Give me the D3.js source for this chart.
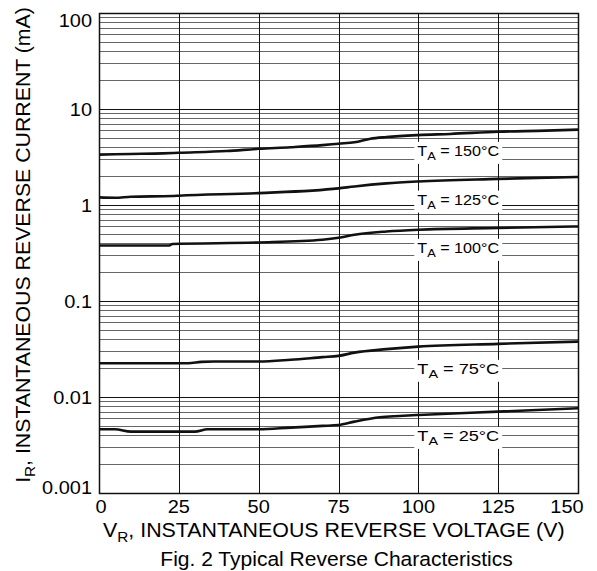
<!DOCTYPE html>
<html><head><meta charset="utf-8">
<script src="https://cdn.jsdelivr.net/npm/d3@7"></script>
<style>body{margin:0;background:#fff}svg{display:block;font-family:"Liberation Sans",Arial,sans-serif}</style>
</head><body><svg id="c" width="597" height="571"></svg>
<script>
const xTicks = [0,25,50,75,100,125,150];
const yTicks = [0.001,0.01,0.1,1,10,100];
const yTickLabels = ["0.001","0.01","0.1","1","10","100"];
const volts150 = [0,10,20,25,40,50,60,70,75,80,85,90,100,110,125,140,150];
const curr150  = [3.35,3.4,3.45,3.5,3.65,3.85,4.0,4.2,4.35,4.5,4.9,5.1,5.35,5.5,5.8,5.95,6.1];
const volts125 = [0,5,10,23,25,50,75,80,90,100,125,150];
const curr125  = [1.2,1.19,1.22,1.24,1.25,1.33,1.49,1.56,1.68,1.76,1.87,1.96];
const volts100 = [0,22,23,50,70,75,80,90,100,125,150];
const curr100  = [0.379,0.379,0.392,0.407,0.435,0.455,0.49,0.53,0.553,0.576,0.598];
const volts75  = [0,28,32,36,50,60,70,75,80,90,100,125,150];
const curr75   = [0.0225,0.0225,0.0232,0.0234,0.0234,0.0244,0.026,0.0268,0.029,0.0315,0.0335,0.0358,0.0378];
const volts25  = [0,5,10,25,30,34,50,60,70,75,80,88,94,100,125,150];
const curr25   = [0.00461,0.00461,0.00436,0.00436,0.00436,0.00461,0.00461,0.0048,0.005,0.0051,0.00554,0.00616,0.00635,0.0065,0.00704,0.00764];
const seriesLabels = ["150°C","125°C","100°C","75°C","25°C"];
const labelY = [3.67,1.14,0.358,0.0197,0.00394];

const svg = d3.select("#c");
const L=99,R=578,T=13,B=493;
const x = d3.scaleLinear().domain([0,150]).range([L,R]);
const y = d3.scaleLog().domain([0.001,100]).range([B,T]);

// horizontal grid
const minor=[];
for(let d=-3; d<2; d++){ for(let k=2;k<=9;k++) minor.push(k*Math.pow(10,d)); }
svg.append("g").selectAll("line").data(minor).join("line")
  .attr("x1",L).attr("x2",R).attr("y1",d=>Math.round(y(d))+0.5).attr("y2",d=>Math.round(y(d))+0.5)
  .attr("stroke","#666").attr("stroke-width",1);
svg.append("g").selectAll("line").data(yTicks).join("line")
  .attr("x1",L).attr("x2",R).attr("y1",d=>Math.round(y(d))+0.5).attr("y2",d=>Math.round(y(d))+0.5)
  .attr("stroke","#111").attr("stroke-width",1);
svg.append("g").selectAll("line").data(xTicks).join("line")
  .attr("y1",T).attr("y2",B).attr("x1",d=>Math.round(x(d))+0.5).attr("x2",d=>Math.round(x(d))+0.5)
  .attr("stroke","#111").attr("stroke-width",1);

// curves
const sets=[[volts150,curr150],[volts125,curr125],[volts100,curr100],[volts75,curr75],[volts25,curr25]];
const line=d3.line().x(d=>x(d[0])).y(d=>y(d[1])).curve(d3.curveMonotoneX);
sets.forEach(([v,c])=>{
  svg.append("path").datum(v.map((vv,i)=>[vv,c[i]])).attr("d",line)
    .attr("fill","none").attr("stroke","#111").attr("stroke-width",2.6);
});

// labels
seriesLabels.forEach((s,i)=>{
  const g=svg.append("g").attr("transform",`translate(${x(112.5)},${y(labelY[i])})`);
  const inner=g.append("g");
  const t=inner.append("text").attr("text-anchor","middle").attr("font-size",14.5).attr("dy","0.35em");
  t.append("tspan").text("T");
  t.append("tspan").attr("font-size",11.5).attr("dy",4).text("A");
  t.append("tspan").attr("dy",-4).text(" = "+s);
  const bb=t.node().getBBox();
  const sx=82/bb.width;
  inner.attr("transform",`scale(${sx},1)`);
  inner.insert("rect","text").attr("x",bb.x-3/sx).attr("y",bb.y-1).attr("width",bb.width+6/sx).attr("height",bb.height+3).attr("fill","#fff");
});

// frame
svg.append("rect").attr("x",L+0.5).attr("y",T+0.5).attr("width",R-L).attr("height",B-T)
  .attr("fill","none").attr("stroke","#111").attr("stroke-width",1.5);

// y tick labels
svg.append("g").selectAll("text").data(yTicks).join("text")
  .attr("transform",(d,i)=>{let p=y(d)+6.8; if(i===5)p+=7; if(i===0)p-=6; return `translate(92,${p}) scale(1.05,1)`;})
  .attr("text-anchor","end").attr("font-size",19).text((d,i)=>yTickLabels[i]);
// x tick labels
svg.append("g").selectAll("text").data(xTicks).join("text")
  .attr("transform",d=>`translate(${d===0?x(d)+2:(d===150?x(d)-11:x(d))},513) scale(1.05,1)`)
  .attr("text-anchor","middle").attr("font-size",19).text(d=>d);

function fitH(textSel, width){
  const w=textSel.node().getBBox().width;
  return width/w;
}
// x title
const xg=svg.append("g");
const xt=xg.append("text").attr("font-size",19.5);
xt.append("tspan").text("V");
xt.append("tspan").attr("font-size",14).attr("dy",5).text("R");
xt.append("tspan").attr("dy",-5).text(", INSTANTANEOUS REVERSE VOLTAGE (V)");
xg.attr("transform",`translate(103,537) scale(${fitH(xt,462)},1)`);
// caption
const cg=svg.append("g");
const ct=cg.append("text").attr("font-size",19.5).attr("text-anchor","middle").text("Fig. 2 Typical Reverse Characteristics");
cg.attr("transform",`translate(336.5,566) scale(${fitH(ct,353)},1)`);
// y title
const yg=svg.append("g");
const yt=yg.append("text").attr("text-anchor","middle").attr("font-size",19.5);
yt.append("tspan").text("I");
yt.append("tspan").attr("font-size",14).attr("dy",5).text("R");
yt.append("tspan").attr("dy",-5).text(", INSTANTANEOUS REVERSE CURRENT (mA)");
yg.attr("transform",`translate(30,245) rotate(-90) scale(${fitH(yt,476)},1)`);
</script></body></html>
